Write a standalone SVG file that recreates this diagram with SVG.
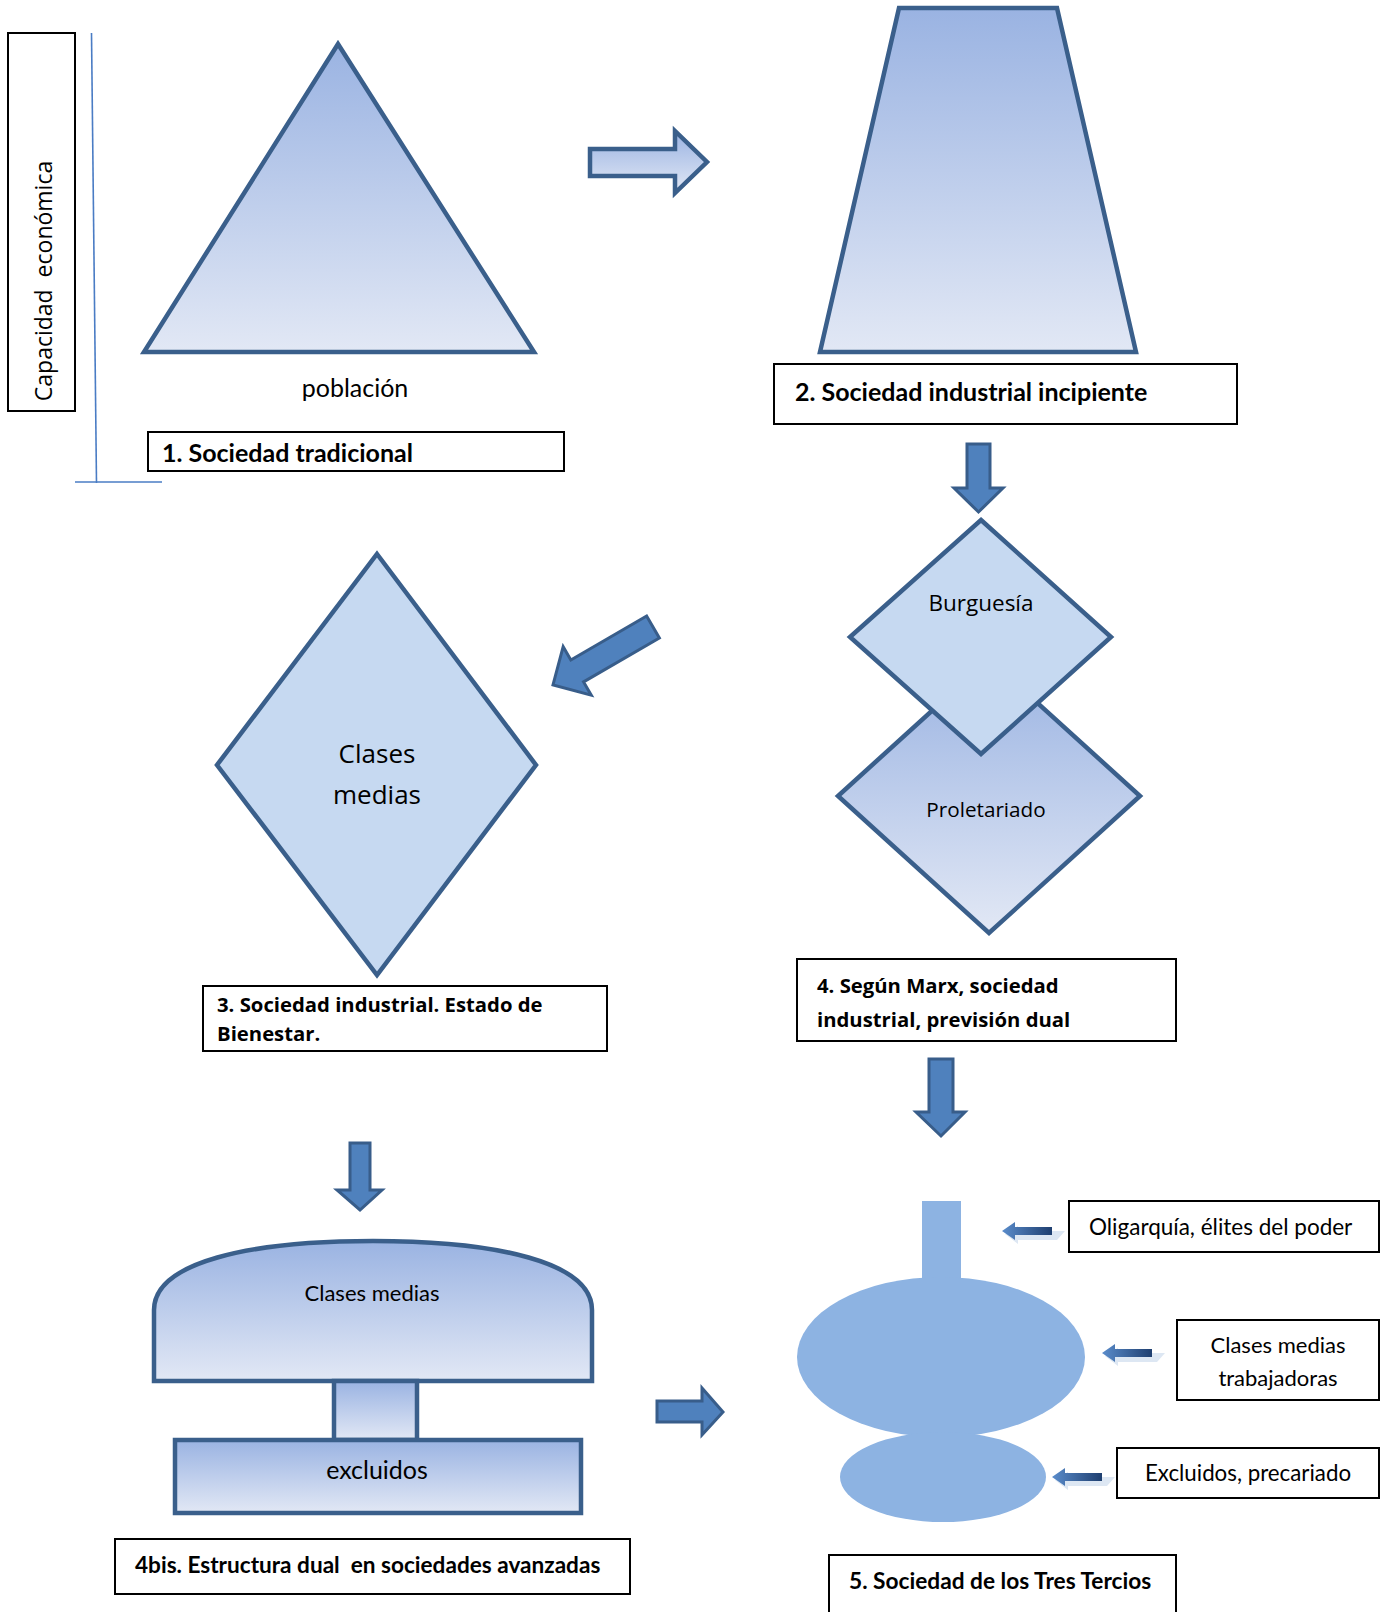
<svg xmlns="http://www.w3.org/2000/svg" width="1387" height="1612" viewBox="0 0 1387 1612">
<defs>
<linearGradient id="gv" x1="0" y1="0" x2="0" y2="1">
<stop offset="0" stop-color="#9ab3e2"/>
<stop offset="1" stop-color="#e2e8f5"/>
</linearGradient>
<linearGradient id="gsm" x1="0" y1="0" x2="1" y2="0">
<stop offset="0" stop-color="#5a8ccb"/>
<stop offset="1" stop-color="#1f3f70"/>
</linearGradient>
<style>
.sh{stroke:#3a5f8b;stroke-width:4.5;stroke-linejoin:miter}
.grad{fill:url(#gv)}
.lite{fill:#c6d9f1}
.box{fill:#fff;stroke:#000;stroke-width:2}
.arr{fill:#4f81bd;stroke:#385d8a;stroke-width:3}
.cal{font-family:Lato,"Liberation Sans",sans-serif;fill:#000}
.opn{font-family:"Open Sans","Noto Sans",sans-serif;fill:#000}
.b{font-weight:bold}
.mid{text-anchor:middle}
.pre{white-space:pre}
.t5{fill:#8db3e2}
</style>
</defs>

<g id="axis">
<rect x="8" y="33" width="67" height="378" class="box"/>
<text class="opn pre" xml:space="preserve" font-size="23" transform="translate(52,281) rotate(-90)" text-anchor="middle">Capacidad  económica</text>
<line x1="91.5" y1="33" x2="96.5" y2="483" stroke="#4a7cc4" stroke-width="1.6"/>
<line x1="75" y1="482" x2="162" y2="482" stroke="#4a7cc4" stroke-width="1.6"/>
</g>

<g id="n1">
<polygon points="338,44 534,352 144,352" class="sh grad"/>
<text class="cal mid" x="355" y="397" font-size="25">población</text>
<rect x="148" y="432" width="416" height="39" class="box"/>
<text class="cal b" x="162" y="462" font-size="25">1. Sociedad tradicional</text>
</g>

<g id="n2">
<polygon points="899,8 1057,8 1136,352 820,352" class="sh grad"/>
<rect x="774" y="364" width="463" height="60" class="box"/>
<text class="cal b" x="795" y="401" font-size="25">2. Sociedad industrial incipiente</text>
</g>

<g id="n4">
<polygon points="989,659 1140,796 989,933 838,796" class="sh grad"/>
<polygon points="981,520 1111,637 981,754 850,637" class="sh lite"/>
<text class="opn mid" x="981" y="611" font-size="22.5">Burguesía</text>
<text class="opn mid" x="986" y="817" font-size="20.7">Proletariado</text>
<rect x="797" y="959" width="379" height="82" class="box"/>
<text class="opn b" x="817" y="993" font-size="20.3">4. Según Marx, sociedad</text>
<text class="opn b" x="817" y="1027" font-size="20.3">industrial, previsión dual</text>
</g>

<g id="n3">
<polygon points="377,554 536,765 377,975 217,765" class="sh lite"/>
<text class="opn mid" x="377" y="763" font-size="26">Clases</text>
<text class="opn mid" x="377" y="804" font-size="26">medias</text>
<rect x="203" y="986" width="404" height="65" class="box"/>
<text class="opn b" x="217" y="1012" font-size="20.3">3. Sociedad industrial. Estado de</text>
<text class="opn b" x="217" y="1041" font-size="20.3">Bienestar.</text>
</g>

<g id="n4bis">
<path d="M154,1381 V1310 C154,1262 250,1241 373,1241 C496,1241 592,1262 592,1310 V1381 Z" class="sh grad"/>
<rect x="334" y="1381" width="83" height="59" class="sh grad"/>
<rect x="175" y="1440" width="406" height="73" class="sh grad"/>
<text class="cal mid" x="372" y="1301" font-size="22">Clases medias</text>
<text class="cal mid" x="377" y="1479" font-size="25">excluidos</text>
<rect x="115" y="1539" width="515" height="55" class="box"/>
<text class="cal b pre" xml:space="preserve" x="135" y="1573" font-size="22.6">4bis. Estructura dual  en sociedades avanzadas</text>
</g>

<g id="n5">
<rect x="922" y="1201" width="39" height="82" class="t5"/>
<ellipse cx="941" cy="1357" rx="144" ry="80" class="t5"/>
<ellipse cx="943" cy="1477" rx="103" ry="45" class="t5"/>
<rect x="829" y="1555" width="347" height="70" class="box"/>
<text class="cal b" x="849" y="1589" font-size="22.7">5. Sociedad de los Tres Tercios</text>
</g>

<g id="lbl-oligarquia">
<rect x="1069" y="1201" width="310" height="51" class="box"/>
<text class="cal" x="1089" y="1235" font-size="22.5">Oligarquía, élites del poder</text>
</g>
<g id="lbl-clases">
<rect x="1177" y="1320" width="202" height="80" class="box"/>
<text class="cal mid" x="1278" y="1353" font-size="22">Clases medias</text>
<text class="cal mid" x="1278" y="1386" font-size="22">trabajadoras</text>
</g>
<g id="lbl-excluidos">
<rect x="1117" y="1448" width="262" height="50" class="box"/>
<text class="cal mid" x="1248" y="1481" font-size="22.3">Excluidos, precariado</text>
</g>

<g id="connectors">
<polygon points="590,149 675,149 675,131 707,162 675,193 675,176 590,176" class="sh grad" stroke-width="3.5"/>
<polygon points="967,444 990,444 990,488 1003,488 978.5,512 954,488 967,488" class="arr"/>
<g transform="translate(653,627) rotate(149.9)">
<polygon points="0,-12.7 87.6,-12.7 87.6,-28 115.6,0 87.6,28 87.6,12.7 0,12.7" class="arr"/>
</g>
<polygon points="929,1059 953,1059 953,1112 965,1112 941,1136 916,1112 929,1112" class="arr"/>
<polygon points="350,1143 370,1143 370,1190 382,1190 360,1210 337,1190 350,1190" class="arr"/>
<polygon points="657,1401 702,1401 702,1388 723,1412 702,1435 702,1422 657,1422" class="arr"/>
<g transform="translate(1002,1231)">
<polygon points="3,3 16,-5 16,0 63,0 55,9 16,9 16,13" fill="#dde7f3"/>
<polygon points="0,0 13,-9 13,-4 50,-4 50,4 13,4 13,9" fill="url(#gsm)"/>
</g>
<g transform="translate(1102,1353)">
<polygon points="3,3 16,-5 16,0 63,0 55,9 16,9 16,13" fill="#dde7f3"/>
<polygon points="0,0 13,-9 13,-4 50,-4 50,4 13,4 13,9" fill="url(#gsm)"/>
</g>
<g transform="translate(1052,1477)">
<polygon points="3,3 16,-5 16,0 63,0 55,9 16,9 16,13" fill="#dde7f3"/>
<polygon points="0,0 13,-9 13,-4 50,-4 50,4 13,4 13,9" fill="url(#gsm)"/>
</g>
</g>
</svg>
